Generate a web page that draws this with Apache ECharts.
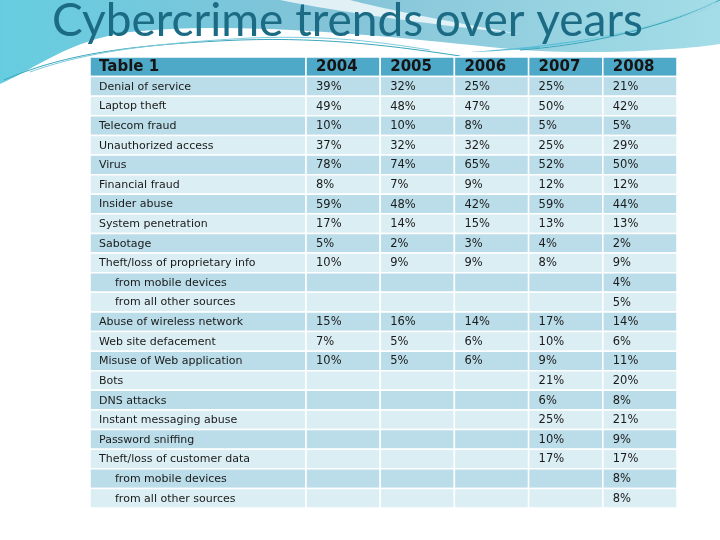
<!DOCTYPE html>
<html>
<head>
<meta charset="utf-8">
<script src="https://cdn.jsdelivr.net/npm/echarts@6/dist/echarts.min.js"></script>
<style>html,body{margin:0;padding:0;background:#fff}#c{width:720px;height:540px}</style>
</head>
<body>
<div id="c"></div>
<script>
const titleText = 'Cybercrime trends over years';
const headerLabel = 'Table 1';
const years = ['2004', '2005', '2006', '2007', '2008'];
const rowLabels = [
  'Denial of service', 'Laptop theft', 'Telecom fraud', 'Unauthorized access', 'Virus',
  'Financial fraud', 'Insider abuse', 'System penetration', 'Sabotage',
  'Theft/loss of proprietary info', 'from mobile devices', 'from all other sources',
  'Abuse of wireless network', 'Web site defacement', 'Misuse of Web application',
  'Bots', 'DNS attacks', 'Instant messaging abuse', 'Password sniffing',
  'Theft/loss of customer data', 'from mobile devices', 'from all other sources'
];
const v2004 = [39, 49, 10, 37, 78, 8, 59, 17, 5, 10, null, null, 15, 7, 10, null, null, null, null, null, null, null];
const v2005 = [32, 48, 10, 32, 74, 7, 48, 14, 2, 9, null, null, 16, 5, 5, null, null, null, null, null, null, null];
const v2006 = [25, 47, 8, 32, 65, 9, 42, 15, 3, 9, null, null, 14, 6, 6, null, null, null, null, null, null, null];
const v2007 = [25, 50, 5, 25, 52, 12, 59, 13, 4, 8, null, null, 17, 10, 9, 21, 6, 25, 10, 17, null, null];
const v2008 = [21, 42, 5, 29, 50, 12, 44, 13, 2, 9, 4, 5, 14, 6, 11, 20, 8, 21, 9, 17, 8, 8];
const values = [v2004, v2005, v2006, v2007, v2008];

const rowCats = [headerLabel].concat(rowLabels);
const COL_HEAD = '#4ea8c7', COL_DARK = '#badde9', COL_LIGHT = '#dbeef4';

function cellRect(api) {
  const c = api.coord([api.value(0), api.value(1)]);
  const s = api.size([1, 1]);
  return { x: c[0] - s[0] / 2, y: c[1] - s[1] / 2, w: s[0], h: s[1] };
}
function fillFor(row) { return row === 0 ? COL_HEAD : (row % 2 === 1 ? COL_DARK : COL_LIGHT); }

// sample a chain of cubic bezier segments into polygon points (decoration only)
function bez(start, segs) {
  const pts = [start.slice()];
  let p0 = start;
  segs.forEach(function (s) {
    if (s.length === 2) { pts.push(s); p0 = s; return; }
    const c1 = s[0], c2 = s[1], p3 = s[2];
    for (let k = 1; k <= 24; k++) {
      const t = k / 24, u = 1 - t;
      pts.push([
        u * u * u * p0[0] + 3 * u * u * t * c1[0] + 3 * u * t * t * c2[0] + t * t * t * p3[0],
        u * u * u * p0[1] + 3 * u * u * t * c1[1] + 3 * u * t * t * c2[1] + t * t * t * p3[1]
      ]);
    }
    p0 = p3;
  });
  return pts;
}
function curve(x1, y1, cx1, cy1, cx2, cy2, x2, y2, color) {
  return { type: 'bezierCurve', z: -6, shape: { x1: x1, y1: y1, cpx1: cx1, cpy1: cy1, cpx2: cx2, cpy2: cy2, x2: x2, y2: y2 },
    style: { fill: null, stroke: color, lineWidth: 1 } };
}

const labelData = rowCats.map((_, i) => [0, i]);
const valueData = [];
for (let j = 0; j < years.length; j++) for (let i = 0; i < rowCats.length; i++) valueData.push([j, i]);

const chart = echarts.init(document.getElementById('c'), null, { renderer: 'canvas' });
chart.setOption({
  backgroundColor: '#ffffff',
  animation: false,
  title: {
    text: titleText, left: 47, top: -7,
    textStyle: { fontFamily: 'Lato', fontSize: 46, fontWeight: 'normal', color: '#1b6b84' }
  },
  graphic: [
    { type: 'rect', z: -10, shape: { x: 0, y: 0, width: 720, height: 90 },
      style: { fill: new echarts.graphic.LinearGradient(0, 0, 1, 0, [
        { offset: 0, color: '#66cde0' }, { offset: 0.45, color: '#83c3d8' }, { offset: 1, color: '#a4dde7' }]) } },
    { type: 'polygon', z: -9, shape: { points: bez([280, 0], [[[350, 14], [430, 24], [520, 34]], [[440, 20], [380, 8], [350, 0]]]) },
      style: { fill: 'rgba(255,255,255,0.75)' } },
    { type: 'polygon', z: -8, shape: { points: bez([0, 84], [[[40, 66], [70, 40], [130, 32]], [[250, 20], [400, 38], [520, 50]], [[600, 55], [680, 50], [720, 44]], [720, 100], [0, 100]]) },
      style: { fill: '#ffffff' } },
    { type: 'polygon', z: -7, shape: { points: bez([470, 52], [[[560, 50], [640, 34], [720, 4]], [[650, 30], [580, 44], [470, 52]]]) },
      style: { fill: '#5bbdd5' } },
    curve(4, 80, 60, 56, 120, 45, 240, 40, '#3aa6bc'),
    curve(240, 40, 330, 37, 400, 47, 460, 56, '#3aa6bc'),
    curve(30, 72, 80, 54, 140, 44, 250, 38, '#7ccbdb'),
    curve(250, 38, 330, 35, 380, 42, 430, 50, '#7ccbdb'),
    curve(520, 50, 600, 44, 670, 24, 720, 0, '#3aa6bc'),
    curve(540, 47, 610, 40, 680, 18, 716, 2, '#8fd3e0')
  ],
  grid: [
    { left: 90, top: 57, width: 216, height: 451 },
    { left: 306, top: 57, width: 371, height: 451 }
  ],
  xAxis: [
    { type: 'category', gridIndex: 0, data: ['label'], show: false },
    { type: 'category', gridIndex: 1, data: years, show: false }
  ],
  yAxis: [
    { type: 'category', gridIndex: 0, data: rowCats, inverse: true, show: false },
    { type: 'category', gridIndex: 1, data: rowCats, inverse: true, show: false }
  ],
  series: [
    {
      type: 'custom', xAxisIndex: 0, yAxisIndex: 0, data: labelData,
      renderItem: function (params, api) {
        const r = cellRect(api);
        const row = api.value(1);
        const label = rowCats[row];
        const isHead = row === 0;
        const indent = /^from /.test(label) ? 25 : 9;
        return { type: 'group', children: [
          { type: 'rect', shape: { x: r.x, y: r.y, width: r.w, height: r.h },
            style: { fill: fillFor(row), stroke: '#ffffff', lineWidth: 1.5 } },
          { type: 'text', style: { x: r.x + indent, y: r.y + r.h / 2 + 0.5, text: label,
            verticalAlign: 'middle', align: 'left',
            font: isHead ? 'bold 15px "DejaVu Sans"' : '11px "DejaVu Sans"',
            fill: isHead ? '#151515' : '#1a1a1a' } }
        ] };
      }
    },
    {
      type: 'custom', xAxisIndex: 1, yAxisIndex: 1, data: valueData,
      renderItem: function (params, api) {
        const r = cellRect(api);
        const col = api.value(0), row = api.value(1);
        const isHead = row === 0;
        let txt = '';
        if (isHead) txt = years[col];
        else { const v = values[col][row - 1]; txt = v == null ? '' : v + '%'; }
        return { type: 'group', children: [
          { type: 'rect', shape: { x: r.x, y: r.y, width: r.w, height: r.h },
            style: { fill: fillFor(row), stroke: '#ffffff', lineWidth: 1.5 } },
          { type: 'text', style: { x: r.x + 10, y: r.y + r.h / 2 + 0.5, text: txt,
            verticalAlign: 'middle', align: 'left',
            font: isHead ? 'bold 15px "DejaVu Sans"' : '11.5px "DejaVu Sans"',
            fill: isHead ? '#151515' : '#1a1a1a' } }
        ] };
      }
    }
  ]
});
</script>
</body>
</html>
